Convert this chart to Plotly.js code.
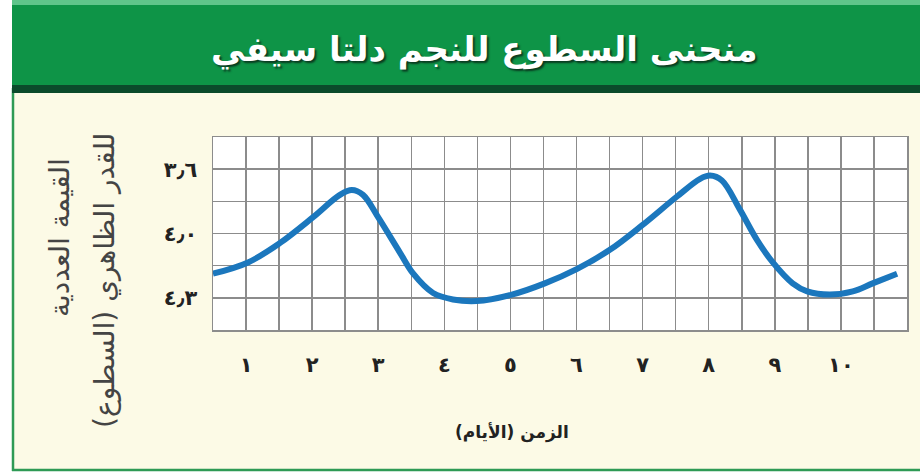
<!DOCTYPE html>
<html>
<head>
<meta charset="utf-8">
<script src="https://cdn.plot.ly/plotly-3.0.1.min.js"></script>
<style>html,body{margin:0;padding:0;background:#fff;}#chart{width:920px;height:476px;}</style>
</head>
<body>
<div id="chart"></div>
<script>
// Time in days
const days = [0.5, 1.03, 1.51, 2.01, 2.42, 2.60, 2.77, 3.00, 3.33, 3.53, 3.83, 4.13, 4.49, 5.02, 5.52,
              6.01, 6.51, 6.99, 7.52, 7.87, 8.02, 8.20, 8.47, 8.73, 8.97, 9.27, 9.49, 9.83, 10.18, 10.48, 10.85];
// Apparent magnitude (brightness)
const magnitude = [4.25, 4.18, 4.06, 3.90, 3.76, 3.73, 3.76, 3.90, 4.12, 4.25, 4.37, 4.41, 4.42, 4.38, 4.31,
                   4.22, 4.10, 3.95, 3.77, 3.66, 3.64, 3.67, 3.85, 4.04, 4.18, 4.31, 4.36, 4.38, 4.36, 4.31, 4.25];
const xTickVals = [1, 2, 3, 4, 5, 6, 7, 8, 9, 10];
const xTickText = ['١', '٢', '٣', '٤', '٥', '٦', '٧', '٨', '٩', '١٠'];
const yTickVals = [3.6, 4.0, 4.4];
const yTickText = ['٣٫٦', '٤٫٠', '٤٫٣'];
const titleText = 'منحنى السطوع للنجم دلتا سيفي';
const xTitle = 'الزمن (الأيام)';
const yTitle1 = 'القيمة العددية';
const yTitle2 = 'للقدر الظاهري (السطوع)';

const AR = 'DejaVu Sans, sans-serif';
const W = 920, H = 476, ML = 213, MR = 13, MT = 137, MB = 146;
const pw = W - ML - MR, ph = H - MT - MB;
const px = x => (x - ML) / pw;
const py = y => (H - MB - y) / ph;

const trace = {
  x: days, y: magnitude, type: 'scatter', mode: 'lines',
  line: {color: '#1b77bd', width: 6, shape: 'spline', smoothing: 1.0},
  hoverinfo: 'skip'
};

const layout = {
  width: W, height: H,
  margin: {l: ML, r: MR, t: MT, b: MB, pad: 0},
  paper_bgcolor: '#fcfae6',
  plot_bgcolor: '#ffffff',
  showlegend: false,
  font: {family: AR, color: '#222'},
  xaxis: {
    range: [0.5, 11], tickvals: xTickVals, ticktext: xTickText.map(t => '<b>' + t + '</b>'),
    showgrid: true, gridcolor: '#8c8c8c', gridwidth: 1.5,
    minor: {tick0: 0.5, dtick: 0.5, showgrid: true, gridcolor: '#8c8c8c', gridwidth: 1.5},
    showline: true, mirror: true, linecolor: '#8c8c8c', linewidth: 1.5,
    zeroline: false, ticks: '', ticklabelstandoff: 15,
    tickfont: {family: AR, size: 21, color: '#222'}
  },
  yaxis: {
    range: [4.6, 3.4], tickvals: yTickVals, ticktext: yTickText.map(t => '<b>' + t + '</b>'),
    showgrid: true, gridcolor: '#8c8c8c', gridwidth: 1.5,
    minor: {tick0: 3.4, dtick: 0.2, showgrid: true, gridcolor: '#8c8c8c', gridwidth: 1.5},
    showline: true, mirror: true, linecolor: '#8c8c8c', linewidth: 1.5,
    zeroline: false, ticks: '', ticklabelstandoff: 10,
    tickfont: {family: AR, size: 21, color: '#222'}
  },
  shapes: [
    // white outer margins
    {type: 'rect', xref: 'paper', yref: 'paper', x0: px(0), x1: px(12), y0: py(0), y1: py(476), fillcolor: '#ffffff', line: {width: 0}, layer: 'above'},
    {type: 'rect', xref: 'paper', yref: 'paper', x0: px(0), x1: px(920), y0: py(471), y1: py(476), fillcolor: '#ffffff', line: {width: 0}, layer: 'above'},
    // green frame lines
    {type: 'line', xref: 'paper', yref: 'paper', x0: px(13), x1: px(13), y0: py(88), y1: py(471), line: {color: '#2e9a55', width: 2.5}, layer: 'above'},
    {type: 'line', xref: 'paper', yref: 'paper', x0: px(12), x1: px(920), y0: py(470), y1: py(470), line: {color: '#2e9a55', width: 2.5}, layer: 'above'},
    // title bar
    {type: 'rect', xref: 'paper', yref: 'paper', x0: px(12), x1: px(920), y0: py(86), y1: py(3), fillcolor: '#0e9447', line: {width: 0}, layer: 'above'},
    {type: 'rect', xref: 'paper', yref: 'paper', x0: px(12), x1: px(920), y0: py(5), y1: py(0), fillcolor: '#5fc58a', line: {width: 0}, layer: 'above'},
    {type: 'rect', xref: 'paper', yref: 'paper', x0: px(12), x1: px(920), y0: py(93), y1: py(85), fillcolor: '#0b4a2b', line: {width: 0}, layer: 'above'}
  ],
  annotations: [
    {text: '<b>' + titleText + '</b>', xref: 'paper', yref: 'paper', x: px(484), y: py(50), xanchor: 'center', yanchor: 'middle',
     showarrow: false, font: {family: AR, size: 34, color: '#ffffff', shadow: '2px 2px 2px #0a3a20'}},
    {text: '<b>' + xTitle + '</b>', xref: 'paper', yref: 'paper', x: px(512), y: py(432), xanchor: 'center', yanchor: 'middle',
     showarrow: false, font: {family: AR, size: 17, color: '#222'}},
    {text: yTitle1, xref: 'paper', yref: 'paper', x: px(59), y: py(238), xanchor: 'center', yanchor: 'middle', textangle: -90,
     showarrow: false, font: {family: AR, size: 28, color: '#444'}},
    {text: yTitle2, xref: 'paper', yref: 'paper', x: px(104), y: py(281), xanchor: 'center', yanchor: 'middle', textangle: -90,
     showarrow: false, font: {family: AR, size: 28, color: '#444'}}
  ]
};

Plotly.newPlot('chart', [trace], layout, {displayModeBar: false, staticPlot: true});
</script>
</body>
</html>
